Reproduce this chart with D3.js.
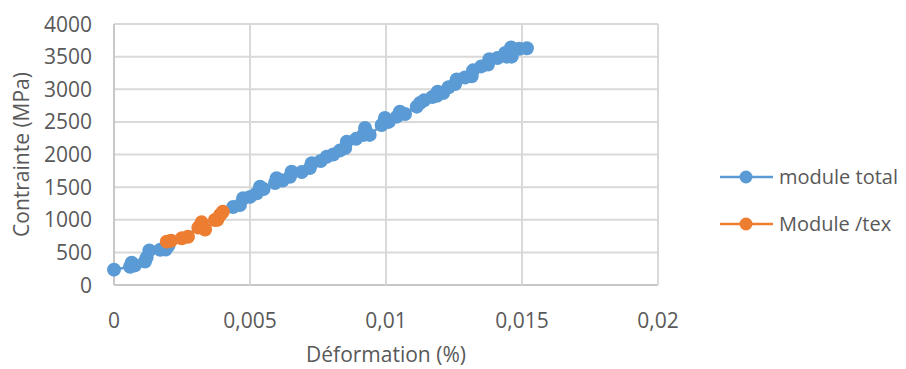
<!DOCTYPE html>
<html><head><meta charset="utf-8">
<script src="https://cdn.jsdelivr.net/npm/d3@7"></script>
<style>
html,body{margin:0;padding:0;background:#fff;}
text{font-family:"Open Sans",sans-serif;fill:#595959;}
</style></head>
<body>
<svg id="chart" width="906" height="369"></svg>
<script>
// ---- data ----
const totalStrain = [0,0.00059,0.00065,0.00077,0.00114,0.0012,0.0013,0.0017,0.0019,0.002,
  0.00438,0.00463,0.00475,0.005,0.00525,0.00537,0.0055,0.00592,0.00598,0.0062,0.00647,0.00653,0.0069,0.0072,0.00727,
  0.0076,0.00782,0.00806,0.0083,0.0085,0.00856,0.0089,0.00916,0.00923,0.0094,0.00984,0.00996,0.0101,0.0104,0.01051,
  0.0107,0.01113,0.01125,0.0114,0.0117,0.01187,0.0119,0.0121,0.0123,0.01254,0.0126,0.0129,0.01315,0.0132,0.0135,
  0.01375,0.0138,0.0141,0.01438,0.01444,0.0146,0.01462,0.0149,0.01518];
const totalStress = [235,280,340,300,360,420,530,540,545,600,
  1195,1226,1329,1350,1405,1507,1470,1563,1635,1600,1660,1737,1730,1793,1865,
  1900,1966,2000,2060,2100,2196,2240,2299,2406,2300,2452,2559,2500,2580,2656,
  2620,2733,2789,2830,2880,2900,2963,2942,3030,3080,3150,3180,3200,3290,3350,
  3380,3460,3480,3555,3500,3640,3500,3620,3628];
const texStrain = [0.00194,0.0021,0.00249,0.00272,0.0031,0.00322,0.00335,0.00371,0.0038,0.0039,0.004];
const texStress = [664,680,715,740,880,960,850,996,1000,1073,1123];
const seriesNames = ["module total","Module /tex"];
const seriesColors = ["#5B9BD5","#ED7D31"];
const xTicks = [0,0.005,0.01,0.015,0.02];
const xTickLabels = ["0","0,005","0,01","0,015","0,02"];
const yTicks = [0,500,1000,1500,2000,2500,3000,3500,4000];
const xTitle = "Déformation (%)";
const yTitle = "Contrainte (MPa)";

// ---- drawing ----
const svg = d3.select("#chart");
const x = d3.scaleLinear().domain([0,0.02]).range([114,658]);
const y = d3.scaleLinear().domain([0,4000]).range([285,24]);

const grid = svg.append("g");
grid.selectAll("line.h").data(yTicks).enter().append("line")
  .attr("x1",x(0)).attr("x2",x(0.02)).attr("y1",d=>y(d)).attr("y2",d=>y(d))
  .attr("stroke",d=>d===0?"#c8c8c8":"#d9d9d9").attr("stroke-width",2);
grid.selectAll("line.v").data(xTicks).enter().append("line")
  .attr("y1",y(0)).attr("y2",y(4000)).attr("x1",d=>x(d)).attr("x2",d=>x(d))
  .attr("stroke",d=>d===0?"#c8c8c8":"#d9d9d9").attr("stroke-width",2);

// tick labels
svg.append("g").selectAll("text").data(yTicks).enter().append("text")
  .attr("x",92).attr("y",d=>y(d)).attr("dy","0.36em").attr("text-anchor","end")
  .style("font-size","21px").text(d=>d);
svg.append("g").selectAll("text").data(xTicks).enter().append("text")
  .attr("x",d=>x(d)).attr("y",328).attr("text-anchor","middle")
  .style("font-size","21px").text((d,i)=>xTickLabels[i]);

// axis titles
svg.append("text").attr("x",(x(0)+x(0.02))/2).attr("y",362).attr("text-anchor","middle")
  .style("font-size","21px").text(xTitle);
svg.append("text").attr("transform",`translate(29,${(y(0)+y(4000))/2}) rotate(-90)`)
  .attr("text-anchor","middle").style("font-size","21px").text(yTitle);

// series
const series = [
  {xs:totalStrain, ys:totalStress},
  {xs:texStrain, ys:texStress}
];
const line = d3.line().x(d=>x(d[0])).y(d=>y(d[1]));
series.forEach((s,i)=>{
  const pts = s.xs.map((v,j)=>[v,s.ys[j]]);
  const g = svg.append("g");
  g.append("path").datum(pts).attr("d",line).attr("fill","none")
    .attr("stroke",seriesColors[i]).attr("stroke-width",2.5);
  g.selectAll("circle").data(pts).enter().append("circle")
    .attr("cx",d=>x(d[0])).attr("cy",d=>y(d[1])).attr("r",7)
    .attr("fill",seriesColors[i]);
});

// legend
const lg = svg.append("g");
seriesNames.forEach((name,i)=>{
  const ly = 177 + i*47;
  lg.append("line").attr("x1",720).attr("x2",773).attr("y1",ly).attr("y2",ly)
    .attr("stroke",seriesColors[i]).attr("stroke-width",2.5);
  lg.append("circle").attr("cx",746).attr("cy",ly).attr("r",6.5).attr("fill",seriesColors[i]);
  lg.append("text").attr("x",779).attr("y",ly).attr("dy","0.36em")
    .style("font-size","20px").text(name);
});
</script>
</body></html>
